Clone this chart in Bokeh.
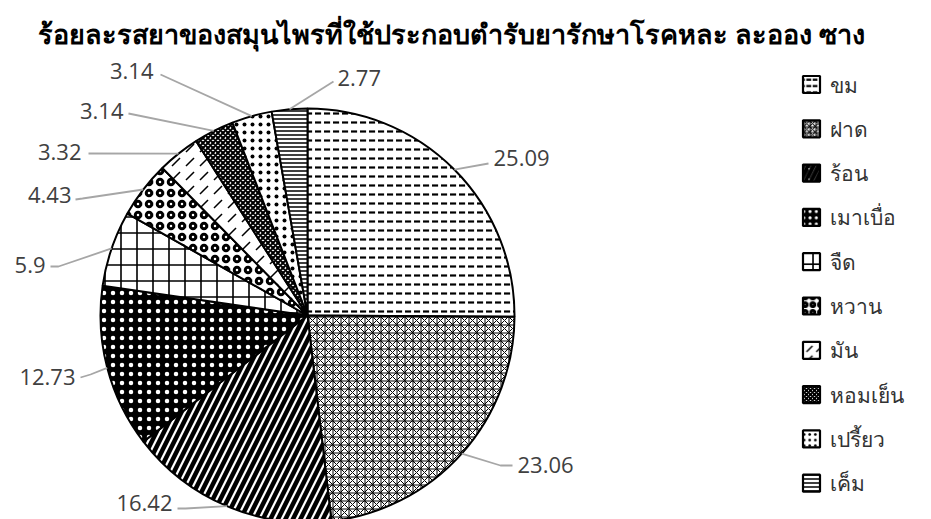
import numpy as np
from bokeh.plotting import figure
from bokeh.models import ColumnDataSource, Range1d
from bokeh.core.properties import value
from bokeh.embed import file_html
from bokeh.resources import INLINE

# ---- data ----
categories = ["ขม", "ฝาด", "ร้อน", "เมาเบื่อ", "จืด", "หวาน", "มัน", "หอมเย็น", "เปรี้ยว", "เค็ม"]
values = [25.09, 23.06, 16.42, 12.73, 5.9, 4.43, 3.32, 3.14, 3.14, 2.77]
labels = ["25.09", "23.06", "16.42", "12.73", "5.9", "4.43", "3.32", "3.14", "3.14", "2.77"]
title = "ร้อยละรสยาของสมุนไพรที่ใช้ประกอบตำรับยารักษาโรคหละ ละออง ซาง"

# ---- styles ----
hatches = ['"', "*", "/", ".", "+", "o", ",", "x", ".", "-"]
hscale = [9, 8, 15, 9, 16, 11, 14, 5, 8, 4]
hweight = [2.2, 1.0, 4.5, 2.0, 1.6, 3.0, 1.5, 2.0, 1.8, 1.5]
hcolor = ["black", "black", "black", "white", "black", "black", "black", "black", "black", "black"]
fcolor = ["white", "white", "white", "black", "white", "white", "white", "white", "white", "white"]

W, H = 931, 519
def sx(x):  # screen px -> data
    return x
def sy(y):
    return H - y

cx, cy, R = sx(307), sy(315), 207

vals = np.array(values)
cum = np.cumsum(vals)
start = np.pi / 2 - 2 * np.pi * (cum - vals) / 100.0
end = np.pi / 2 - 2 * np.pi * cum / 100.0
mid = (start + end) / 2

p = figure(width=W, height=H, output_backend="svg", toolbar_location=None,
           x_range=Range1d(0, W), y_range=Range1d(0, H), min_border=0)
p.axis.visible = False
p.grid.visible = False
p.outline_line_color = None
p.background_fill_color = "white"

src = ColumnDataSource(dict(start=start, end=end, hatch=hatches, hscale=hscale,
                            hweight=hweight, hcolor=hcolor, fcolor=fcolor))
p.wedge(x=cx, y=cy, radius=R, start_angle="start", end_angle="end", direction="clock",
        source=src, fill_color="fcolor", hatch_pattern="hatch", hatch_scale="hscale",
        hatch_weight="hweight", hatch_color="hcolor", line_color="black", line_width=2)

# ---- leader lines & labels ----
# (text x, text y, align, intermediate points) in screen px
layout = [
    (493, 157, "left", [(488, 163)]),
    (517, 464, "left", [(500, 465), (512, 465)]),
    (172, 502, "right", [(185, 508), (177, 508)]),
    (75, 376, "right", [(90, 374), (80, 377)]),
    (45, 264, "right", [(58, 266), (50, 266)]),
    (71, 194, "right", [(82, 198), (75, 199)]),
    (81, 151, "right", [(88, 153)]),
    (123, 110, "right", [(128, 113)]),
    (153, 70, "right", [(160, 74)]),
    (337, 77, "left", [(333, 81)]),
]
xs, ys = [], []
tx, ty, ta, tl = [], [], [], []
for i, (lx, ly, al, pts) in enumerate(layout):
    ex = cx + R * np.cos(mid[i])
    ey = cy + R * np.sin(mid[i])
    xs.append([ex] + [sx(a) for a, b in pts])
    ys.append([ey] + [sy(b) for a, b in pts])
    tx.append(sx(lx)); ty.append(sy(ly)); ta.append(al); tl.append(labels[i])
p.multi_line(xs=xs, ys=ys, line_color="#a6a6a6", line_width=1.8)
p.text(x=tx, y=ty, text=tl, text_align=ta, text_baseline="middle",
       text_font=value("Open Sans"), text_font_size="22px", text_color="#404040")

# ---- legend ----
ly0, dly = 84, 44.3
lgx = [sx(811)] * len(categories)
lgy = [sy(ly0 + dly * i) for i in range(len(categories))]
lsrc = ColumnDataSource(dict(x=lgx, y=lgy, hatch=hatches, hscale=[max(4, s * 0.7) for s in hscale],
                             hweight=hweight, hcolor=hcolor, fcolor=fcolor,
                             tx=[sx(829)] * len(categories), name=categories))
p.rect(x="x", y="y", width=17, height=17, source=lsrc, fill_color="fcolor",
       hatch_pattern="hatch", hatch_scale="hscale", hatch_weight="hweight",
       hatch_color="hcolor", line_color="black", line_width=2.2)
p.text(x="tx", y="y", text="name", source=lsrc, text_baseline="middle",
       text_font=value("Noto Sans"), text_font_size="21px", text_color="#333333")

# ---- title ----
p.text(x=[sx(37)], y=[sy(33)], text=[title], text_baseline="middle",
       text_font=value("Noto Sans"), text_font_size="27px", text_font_style="bold",
       text_color="black")

open("out.html", "w").write(file_html(p, INLINE))
